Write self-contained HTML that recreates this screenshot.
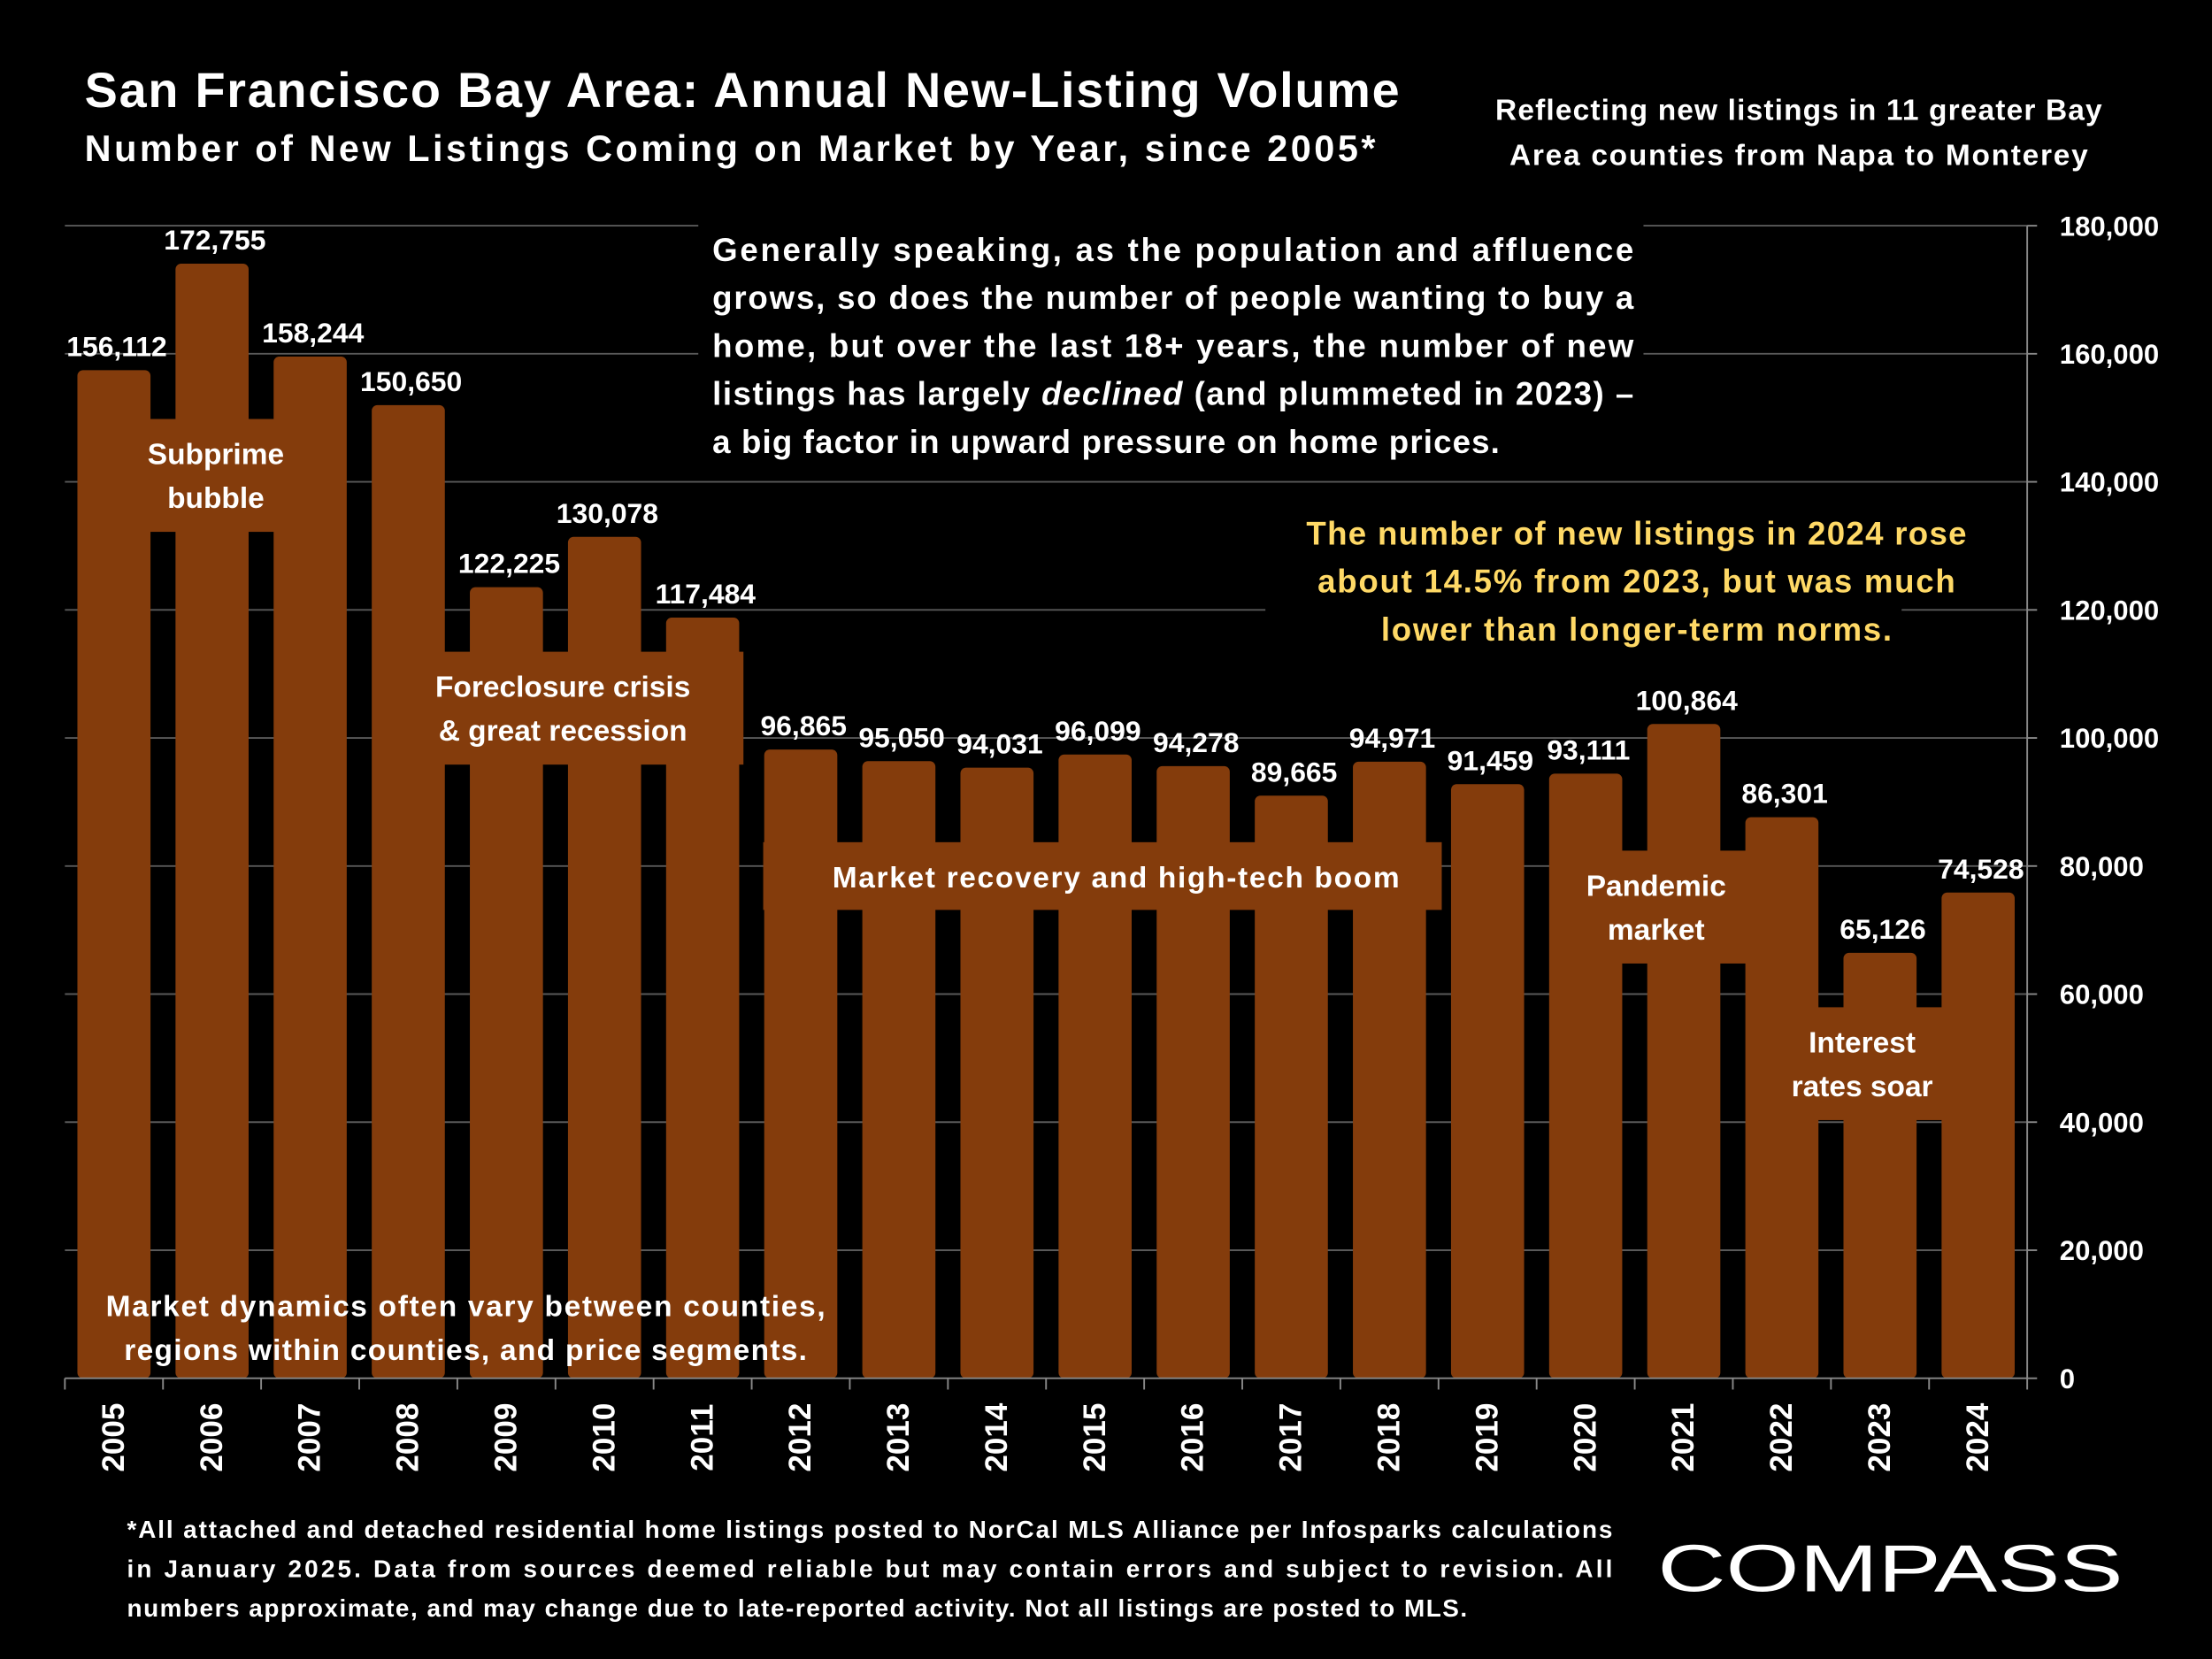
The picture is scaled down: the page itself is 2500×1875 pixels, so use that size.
<!DOCTYPE html>
<html><head><meta charset="utf-8"><style>
html,body{margin:0;padding:0;background:#000;}
svg{display:block;}
text{font-family:"Liberation Sans",sans-serif;font-weight:bold;fill:#fff;}
</style></head><body>
<svg id="chart" width="2500" height="1875" viewBox="0 0 1568 1176" xmlns="http://www.w3.org/2000/svg">
<rect width="1568" height="1176" fill="#000"/>
<text x="60" y="76" font-size="35" textLength="932">San Francisco Bay Area: Annual New-Listing Volume</text>
<text x="60" y="114" font-size="26" textLength="915">Number of New Listings Coming on Market by Year, since 2005*</text>
<text x="1275" y="85" font-size="21" text-anchor="middle" textLength="430">Reflecting new listings in 11 greater Bay</text>
<text x="1275" y="117" font-size="21" text-anchor="middle" textLength="410">Area counties from Napa to Monterey</text>
<g id="grid"></g>
<g id="bars"></g>
<g id="axes"></g>
<g id="labels"></g>

<rect x="495" y="150" width="670" height="182" fill="#000"/>
<g font-size="23">
<text x="505" y="185" font-size="23" textLength="653">Generally speaking, as the population and affluence</text>
<text x="505" y="219" font-size="23" textLength="653">grows, so does the number of people wanting to buy a</text>
<text x="505" y="253" font-size="23" textLength="653">home, but over the last 18+ years, the number of new</text>
<text x="505" y="287" font-size="23" textLength="653">listings has largely <tspan font-style="italic">declined</tspan> (and plummeted in 2023) –</text>
<text x="505" y="321" font-size="23" textLength="558">a big factor in upward pressure on home prices.</text>
</g>
<rect x="897" y="360" width="451" height="108" fill="#000"/>
<g>
<text x="1160" y="386" font-size="23" text-anchor="middle" style="fill:#FFD966" textLength="468">The number of new listings in 2024 rose</text>
<text x="1160" y="420" font-size="23" text-anchor="middle" style="fill:#FFD966" textLength="452">about 14.5% from 2023, but was much</text>
<text x="1160" y="454" font-size="23" text-anchor="middle" style="fill:#FFD966" textLength="362">lower than longer-term norms.</text>
</g>

<g>
<rect x="98" y="297" width="110" height="80" fill="#843C0C"/>
<text x="153" y="329" font-size="21" text-anchor="middle">Subprime</text>
<text x="153" y="360" font-size="21" text-anchor="middle">bubble</text></g>
<g>
<rect x="298" y="462" width="229" height="80" fill="#843C0C"/>
<text x="399" y="494" font-size="21" text-anchor="middle">Foreclosure crisis</text>
<text x="399" y="525" font-size="21" text-anchor="middle">&amp; great recession</text></g>
<g>
<rect x="541" y="597" width="481" height="48" fill="#843C0C"/>
<text x="791" y="629" font-size="21" text-anchor="middle" textLength="402">Market recovery and high-tech boom</text></g>
<g>
<rect x="1108" y="603" width="132" height="80" fill="#843C0C"/>
<text x="1174" y="635" font-size="21" text-anchor="middle">Pandemic</text>
<text x="1174" y="666" font-size="21" text-anchor="middle">market</text></g>
<g>
<rect x="1258" y="714" width="122" height="80" fill="#843C0C"/>
<text x="1320" y="746" font-size="21" text-anchor="middle">Interest</text>
<text x="1320" y="777" font-size="21" text-anchor="middle">rates soar</text></g>
<g>
<text x="330" y="933" font-size="21" text-anchor="middle" textLength="510">Market dynamics often vary between counties,</text>
<text x="330" y="964" font-size="21" text-anchor="middle" textLength="484">regions within counties, and price segments.</text></g>

<g>
<text x="90" y="1090" font-size="17.5" textLength="1053">*All attached and detached residential home listings posted to NorCal MLS Alliance per Infosparks calculations</text>
<text x="90" y="1118" font-size="17.5" textLength="1053">in January 2025. Data from sources deemed reliable but may contain errors and subject to revision. All</text>
<text x="90" y="1146" font-size="17.5" textLength="950">numbers approximate, and may change due to late-reported activity. Not all listings are posted to MLS.</text></g>
<text x="1175" y="1128" font-size="47" textLength="330" lengthAdjust="spacingAndGlyphs" style="font-weight:normal">COMPASS</text>
</svg>
<script>
const years=["2005","2006","2007","2008","2009","2010","2011","2012","2013","2014","2015","2016","2017","2018","2019","2020","2021","2022","2023","2024"];
const listings=[156112,172755,158244,150650,122225,130078,117484,96865,95050,94031,96099,94278,89665,94971,91459,93111,100864,86301,65126,74528];
const yTicks=[0,20000,40000,60000,80000,100000,120000,140000,160000,180000];
const NS="http://www.w3.org/2000/svg";
const X0=46,X1=1437,Y0=977,Y1=160,YMAX=180000;
const band=(X1-X0)/years.length;
function xC(i){return X0+band*(i+0.5);}
function yS(v){return Y0-(v/YMAX)*(Y0-Y1);}
function mk(tag,attrs,parent){const e=document.createElementNS(NS,tag);for(const k in attrs)e.setAttribute(k,attrs[k]);parent.appendChild(e);return e;}
const grid=document.getElementById('grid'),bars=document.getElementById('bars'),axes=document.getElementById('axes'),labels=document.getElementById('labels');
yTicks.forEach(t=>{
  const y=yS(t);
  if(t>0){const g=mk('line',{x1:X0,x2:X1,y1:y,y2:y,stroke:'#595959','stroke-width':1.2},grid);
  
  }
  const tk=mk('line',{x1:X1,x2:X1+7,y1:y,y2:y,stroke:'#888','stroke-width':1.2},axes);
  
  
  const tl=mk('text',{x:1460,y:y+7,'font-size':19.5},axes);
  tl.textContent=t.toLocaleString('en-US');
  
  
});
const ya=mk('line',{x1:X1,x2:X1,y1:Y1,y2:Y0,stroke:'#888','stroke-width':1.2},axes);


const xa=mk('line',{x1:X0,x2:X1,y1:Y0,y2:Y0,stroke:'#888','stroke-width':1.2},axes);


for(let i=0;i<=years.length;i++){
  const x=X0+band*i;
  const t=mk('line',{x1:x,x2:x,y1:Y0,y2:Y0+8,stroke:'#888','stroke-width':1.2},axes);
  
  
}
const bw=band*0.745;
const lift=6;
years.forEach((yr,i)=>{
  const v=listings[i],x=xC(i),y=yS(v)-lift;
  const b=mk('rect',{x:x-bw/2,y:y,width:bw,height:Y0-y,fill:'#843C0C',rx:4},bars);
  
  
  const l=mk('text',{x:x+2,y:y-10,'font-size':20,'text-anchor':'middle'},labels);
  l.textContent=v.toLocaleString('en-US');
  
  
  const xl=mk('text',{x:0,y:0,'font-size':22,'text-anchor':'middle',transform:'translate('+(x+7)+',1019) rotate(-90)'},axes);
  xl.textContent=yr;
  
  
});
</script>
</body></html>
